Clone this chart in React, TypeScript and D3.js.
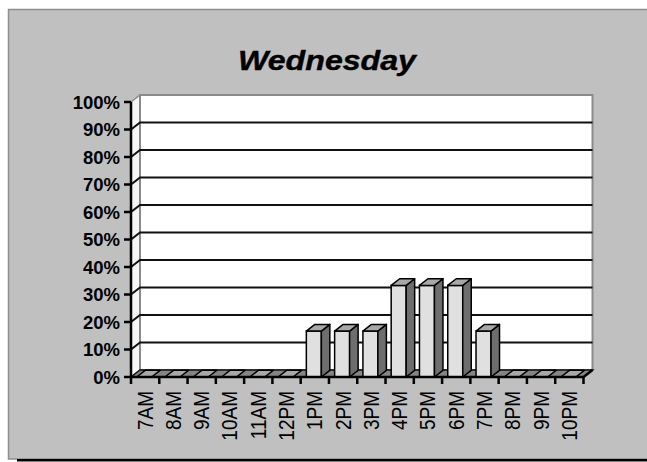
import React from "react";
import * as d3 from "d3";

// Share of visits per hour on Wednesday (percent)
const hours = ["7AM", "8AM", "9AM", "10AM", "11AM", "12PM", "1PM", "2PM", "3PM", "4PM", "5PM", "6PM", "7PM", "8PM", "9PM", "10PM"];
const share = [0, 0, 0, 0, 0, 0, 16.7, 16.7, 16.7, 33.3, 33.3, 33.3, 16.7, 0, 0, 0];
const yTicks = [0, 10, 20, 30, 40, 50, 60, 70, 80, 90, 100];
const title = "Wednesday";

const W = 647;
const H = 462;
const FONT = "'Liberation Sans', Arial, sans-serif";

// plot geometry
const left = 131;
const right = 583.5;
const bottom = 377;
const top = 102;
const depthX = 9; // 3D wall offset
const depthY = -7;
const barDX = 8.5; // 3D bar depth
const barDY = -6.7;

export default function App() {
  const x = d3.scaleBand<string>().domain(hours).range([left, right]).paddingInner(0).paddingOuter(0);
  const y = d3.scaleLinear().domain([0, 100]).range([bottom, top]);
  const bw = x.bandwidth();
  const pct = d3.format(".0f");

  const pts = (p: [number, number][]) => p.map((q) => q.join(",")).join(" ");

  return (
    <svg width={W} height={H} style={{ position: "absolute", left: 0, top: 0 }} fontFamily={FONT}>
      <rect x={0} y={0} width={W} height={H} fill="#ffffff" />
      {/* chart area */}
      <rect x={8.5} y={9.5} width={W} height={449.5} fill="#c0c0c0" stroke="#8e8e8e" strokeWidth={1.5} />
      <rect x={17} y={459} width={W} height={2.5} fill="#000" />

      <text
        x={327}
        y={70}
        textAnchor="middle"
        fontSize={28.5}
        fontWeight="bold"
        fontStyle="italic"
        textLength={178}
        lengthAdjust="spacingAndGlyphs"
        fill="#000"
        stroke="#000"
        strokeWidth={0.4}
      >
        {title}
      </text>

      {/* side wall */}
      <polygon
        points={pts([
          [left, bottom],
          [left, top],
          [left + depthX, top + depthY],
          [left + depthX, bottom + depthY],
        ])}
        fill="#f6f6f6"
        stroke="#8a8a8a"
        strokeWidth={1.5}
      />
      {/* back wall */}
      <rect
        x={left + depthX}
        y={top + depthY}
        width={right - left}
        height={bottom - top}
        fill="#ffffff"
        stroke="#8a8a8a"
        strokeWidth={2}
      />

      {/* gridlines */}
      {yTicks
        .filter((t) => t > 0 && t < 100)
        .map((t) => (
          <polyline
            key={t}
            points={pts([
              [left, y(t)],
              [left + depthX, y(t) + depthY],
              [right + depthX, y(t) + depthY],
            ])}
            fill="none"
            stroke="#111"
            strokeWidth={2}
          />
        ))}

      {/* floor */}
      <polygon
        points={pts([
          [left, bottom],
          [right, bottom],
          [right + depthX, bottom + depthY],
          [left + depthX, bottom + depthY],
        ])}
        fill="#858585"
        stroke="#111"
        strokeWidth={1.5}
      />

      {/* bars */}
      {hours.map((h, i) => {
        const v = share[i];
        const x0 = (x(h) as number) + bw * 0.2;
        const w = bw * 0.53;
        const yt = y(v);
        const yb = y(0);
        const topFace = (
          <polygon
            points={pts([
              [x0, yt],
              [x0 + barDX, yt + barDY],
              [x0 + w + barDX, yt + barDY],
              [x0 + w, yt],
            ])}
            fill="#a8a8a8"
            stroke="#000"
            strokeWidth={1.5}
            strokeLinejoin="round"
          />
        );
        if (v === 0) return <g key={h}>{topFace}</g>;
        return (
          <g key={h}>
            <rect x={x0} y={yt} width={w} height={yb - yt} fill="#e0e0e0" stroke="#000" strokeWidth={1.5} />
            <polygon
              points={pts([
                [x0 + w, yt],
                [x0 + w + barDX, yt + barDY],
                [x0 + w + barDX, yb + barDY],
                [x0 + w, yb],
              ])}
              fill="#6e6e6e"
              stroke="#000"
              strokeWidth={1.5}
              strokeLinejoin="round"
            />
            {topFace}
          </g>
        );
      })}

      {/* y axis */}
      <line x1={left} x2={left} y1={bottom} y2={top} stroke="#000" strokeWidth={2.5} />
      {yTicks.map((t) => (
        <g key={t}>
          <line x1={left - 7} x2={left} y1={y(t)} y2={y(t)} stroke="#000" strokeWidth={2.5} />
          <text x={120} y={y(t)} dy="0.36em" textAnchor="end" fontSize={18.5} fontWeight="bold" fill="#000">
            {pct(t)}%
          </text>
        </g>
      ))}

      {/* x axis */}
      <polyline
        points={pts([
          [left, bottom],
          [right, bottom],
          [right + depthX, bottom + depthY],
        ])}
        fill="none"
        stroke="#000"
        strokeWidth={2.5}
      />
      {[...hours.map((h) => x(h) as number), right].map((tx, i) => (
        <line key={i} x1={tx} x2={tx} y1={bottom} y2={bottom + 7} stroke="#000" strokeWidth={2.5} />
      ))}
      {hours.map((h) => {
        const cx = (x(h) as number) + bw / 2;
        return (
          <text
            key={h}
            transform={`translate(${cx + 7.5},${391}) scale(1.15,1) rotate(-90)`}
            textAnchor="end"
            fontSize={19}
            fill="#000"
          >
            {h}
          </text>
        );
      })}
    </svg>
  );
}
